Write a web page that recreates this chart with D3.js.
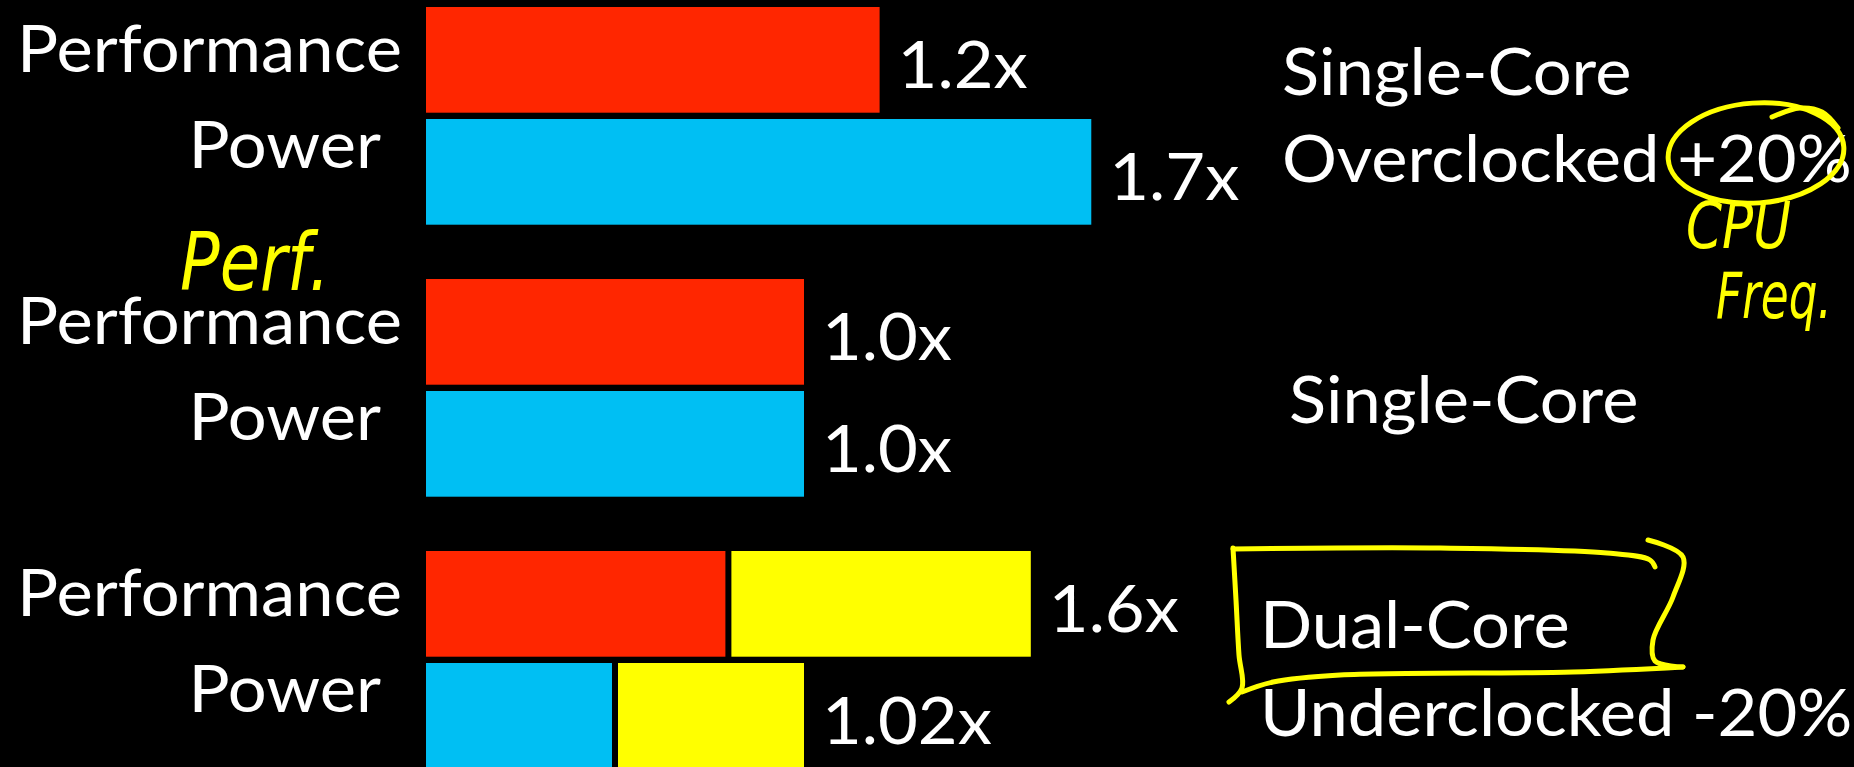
<!DOCTYPE html>
<html>
<head>
<meta charset="utf-8">
<script src="https://cdn.jsdelivr.net/npm/d3@7"></script>
<style>
  html, body { margin: 0; padding: 0; background: #000; overflow: hidden; }
  svg { display: block; }
</style>
</head>
<body>
<svg id="chart" width="1854" height="767"></svg>
<script>
// ==========================
// DATA
// ==========================
const groups = ["overclocked", "single", "dual"];
const metrics = ["Performance", "Power"];
// bar lengths relative to the single-core baseline (first core, second core)
const perfCore1 = [1.2, 1.0, 0.8];
const perfCore2 = [0, 0, 0.8];
const powerCore1 = [1.76, 1.0, 0.5];
const powerCore2 = [0, 0, 0.5];
const perfLabels = ["1.2x", "1.0x", "1.6x"];
const powerLabels = ["1.7x", "1.0x", "1.02x"];
const groupNotes = [
    ["Single-Core", "Overclocked +20%"],
    ["Single-Core"],
    ["Dual-Core", "Underclocked -20%"]
];

// ==========================
// SETUP
// ==========================
const svg = d3.select("#chart");
const FONT = "Lato, 'Open Sans', sans-serif";
const FONT_SIZE = 65;
const RED = "#ff2600", BLUE = "#00bff3", YELLOW = "#ffff00";

svg.append("rect").attr("width", 1854).attr("height", 767).attr("fill", "#000");

const x = d3.scaleLinear().domain([0, 1]).range([426, 804]);
const yGroup = d3.scaleBand().domain(groups).range([7, 7 + 272 * 3]);
const yMetric = d3.scaleBand().domain(metrics).range([0, 217.7]).paddingInner(0.05625);

// horizontal squeeze so the fallback font matches the slide's narrow face
const probe = svg.append("text")
    .attr("font-family", FONT).attr("font-size", FONT_SIZE)
    .text("Performance");
const sx = 385 / probe.node().getComputedTextLength();
probe.remove();

function txt(parent, str, tx, ty, anchor) {
    return parent.append("text")
        .attr("transform", `translate(${tx},${ty}) scale(${sx},1)`)
        .attr("text-anchor", anchor || "start")
        .attr("font-family", FONT)
        .attr("font-size", FONT_SIZE)
        .attr("fill", "#fff")
        .text(str);
}

// rows: one per group x metric
const rows = [];
groups.forEach((g, i) => {
    rows.push({ group: g, metric: "Performance", segs: [perfCore1[i], perfCore2[i]], colors: [RED, YELLOW], label: perfLabels[i] });
    rows.push({ group: g, metric: "Power", segs: [powerCore1[i], powerCore2[i]], colors: [BLUE, YELLOW], label: powerLabels[i] });
});

const GAP = 3; // half gap between core segments
const labelEnd = { Performance: 402, Power: 381 };
const labelDy = { Performance: 11.8, Power: -3.6 };

const rowG = svg.selectAll(".row")
    .data(rows)
    .enter()
    .append("g")
    .attr("class", "row")
    .attr("transform", d => `translate(0,${yGroup(d.group) + yMetric(d.metric)})`);

rowG.each(function(d) {
    const g = d3.select(this);
    const h = yMetric.bandwidth();
    const split = d.segs[1] > 0;
    let cum = 0;
    d.segs.forEach((v, k) => {
        if (v <= 0) return;
        let x0 = x(cum), x1 = x(cum + v);
        if (split && k === 0) x1 -= GAP;
        if (split && k === 1) x0 += GAP;
        g.append("rect")
            .attr("x", x0).attr("y", 0)
            .attr("width", x1 - x0).attr("height", h)
            .attr("fill", d.colors[k]);
        cum += v;
    });
    // category label
    txt(g, d.metric, labelEnd[d.metric], h / 2 + labelDy[d.metric], "end");
    // value label
    txt(g, d.label, x(cum) + 18, h / 2 + 28.3);
});

// group descriptions on the right
const notePos = [[1282, 95], [1289, 423.3], [1260, 648.3]];
const lineStep = 87.2;
groupNotes.forEach((lines, i) => {
    lines.forEach((line, j) => {
        txt(svg, line, notePos[i][0], notePos[i][1] + j * lineStep);
    });
});

// ==========================
// HAND-DRAWN ANNOTATIONS
// ==========================
const ink = svg.append("g")
    .attr("fill", "none")
    .attr("stroke", YELLOW)
    .attr("stroke-width", 5)
    .attr("stroke-linecap", "round")
    .attr("stroke-linejoin", "round");
const pen = d3.line().curve(d3.curveCatmullRom.alpha(0.5));

// circle around "+20%"
ink.append("ellipse")
    .attr("cx", 1756).attr("cy", 153)
    .attr("rx", 88).attr("ry", 50)
    .attr("transform", "rotate(-4,1756,153)");
ink.append("path").attr("d", pen([[1772, 117], [1800, 108], [1822, 112], [1838, 128]]));

// bracket box around "Dual-Core"
ink.append("path").attr("d", pen([[1233, 548], [1236, 600], [1239, 655], [1242, 688], [1229, 702]]));
ink.append("path").attr("d", pen([[1233, 549], [1440, 548], [1607, 553], [1650, 560], [1655, 567]]));
ink.append("path").attr("d", pen([[1648, 540], [1683, 557], [1673, 597], [1653, 640], [1655, 661], [1683, 667]]));
ink.append("path").attr("d", pen([[1683, 667], [1573, 672], [1340, 675], [1273, 682], [1242, 692]]));

// handwritten notes, squeezed to the width of the scribbles
const hand = svg.append("g")
    .attr("fill", YELLOW)
    .attr("font-family", "'DejaVu Sans', sans-serif")
    .attr("font-style", "italic");
function scribble(str, tx, ty, size, width) {
    const t = hand.append("text").attr("font-size", size).text(str);
    const k = width / t.node().getComputedTextLength();
    t.attr("transform", `translate(${tx},${ty}) scale(${k},1)`);
}
scribble("Perf.", 180, 290, 80, 150);
scribble("CPU", 1686, 248, 64, 105);
scribble("Freq.", 1716, 318, 64, 116);
</script>
</body>
</html>
